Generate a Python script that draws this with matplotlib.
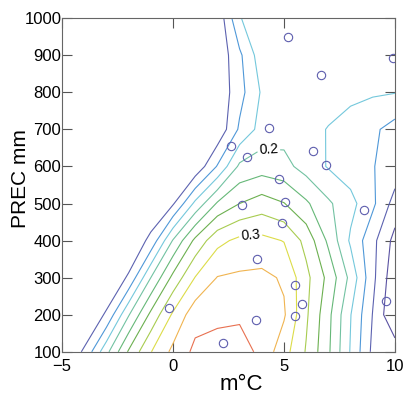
import matplotlib
matplotlib.use('Agg')
import matplotlib.pyplot as plt
import numpy as np

plt.rcParams['font.family'] = ['Liberation Sans', 'DejaVu Sans']

# grid axes of the response surface
temp = [-5, -4, -3, -2, -1, 0, 1, 2, 3, 4, 5, 6, 7, 8, 9, 10]
prec = [100, 200, 300, 400, 500, 600, 700, 800, 900, 1000]

# surface values, one row per precipitation level
z100 = [0.105, 0.128, 0.193, 0.253, 0.299, 0.331, 0.356, 0.362, 0.364, 0.342, 0.310, 0.273, 0.229, 0.173, 0.119, 0.115]
z200 = [0.105, 0.105, 0.128, 0.198, 0.256, 0.304, 0.340, 0.343, 0.345, 0.338, 0.328, 0.279, 0.232, 0.176, 0.124, 0.075]
z300 = [0.105, 0.105, 0.105, 0.128, 0.200, 0.257, 0.301, 0.326, 0.329, 0.331, 0.322, 0.282, 0.243, 0.193, 0.131, 0.082]
z400 = [0.105, 0.105, 0.105, 0.105, 0.131, 0.202, 0.256, 0.293, 0.306, 0.307, 0.299, 0.267, 0.220, 0.171, 0.132, 0.092]
z500 = [0.105, 0.105, 0.105, 0.105, 0.105, 0.122, 0.181, 0.228, 0.250, 0.262, 0.251, 0.229, 0.204, 0.183, 0.155, 0.115]
z600 = [0.105, 0.105, 0.105, 0.105, 0.105, 0.105, 0.105, 0.152, 0.205, 0.213, 0.208, 0.190, 0.173, 0.162, 0.151, 0.140]
z700 = [0.105, 0.105, 0.105, 0.105, 0.105, 0.105, 0.105, 0.105, 0.154, 0.185, 0.190, 0.182, 0.174, 0.165, 0.155, 0.140]
z800 = [0.105, 0.105, 0.105, 0.105, 0.105, 0.105, 0.105, 0.105, 0.141, 0.178, 0.185, 0.186, 0.184, 0.181, 0.178, 0.176]
z900 = [0.105, 0.105, 0.105, 0.105, 0.105, 0.105, 0.105, 0.105, 0.145, 0.190, 0.188, 0.188, 0.188, 0.187, 0.186, 0.186]
z1000 = [0.105, 0.105, 0.105, 0.105, 0.105, 0.105, 0.105, 0.105, 0.174, 0.186, 0.188, 0.188, 0.188, 0.188, 0.188, 0.188]

levels = [0.1, 0.125, 0.15, 0.175, 0.2, 0.225, 0.25, 0.275, 0.3, 0.325, 0.35]
line_colors = ['#5a52a2', '#5c62b0', '#4f98d8', '#74c8dc', '#72c2a2', '#66b878',
               '#6cb050', '#a8cc50', '#dcdc48', '#f0b450', '#e87050']

# sample sites
site_temp = [5.19, 9.9, 6.68, 4.31, 2.63, 3.32, 6.29, 6.89, 4.79, 5.05, 3.09,
             4.92, 8.59, 3.78, 5.51, 5.8, 5.51, 9.61, 3.73, -0.17, 2.25]
site_prec = [948, 892, 846, 704, 656, 625, 642, 605, 567, 503, 497,
             447, 482, 351, 281, 229, 197, 237, 185, 219, 125]

z = np.array([z100, z200, z300, z400, z500, z600, z700, z800, z900, z1000])

fig = plt.figure(figsize=(4.08, 3.94), dpi=100)
ax = fig.add_axes([0.152, 0.107, 0.816, 0.847])

cs = ax.contour(temp, prec, z, levels=levels, colors=line_colors, linewidths=0.8)
# only the 0.2 and 0.3 lines carry a label
label_fmt = {lv: ('%.1f' % lv if round(lv, 3) in (0.2, 0.3) else '') for lv in cs.levels}
ax.clabel(cs, manual=[(4.3, 642), (3.5, 412)], fmt=label_fmt,
          fontsize=10, colors='black', inline=True, inline_spacing=2)
ax.plot(site_temp, site_prec, 'o', mfc='none', mec='#5e5eae', ms=6, mew=0.8)

ax.set_xlim(-5, 10)
ax.set_ylim(100, 1000)
ax.set_xticks([-5, 0, 5, 10])
ax.set_yticks(list(range(100, 1001, 100)))
ax.tick_params(direction='in', top=True, right=True, length=7, width=0.8,
               color='#555555', labelsize=12)
ax.tick_params(axis='x', pad=5)
ax.tick_params(axis='y', pad=0.5)
for sp in ax.spines.values():
    sp.set_color('#666666')
    sp.set_linewidth(0.8)

ax.set_xlabel('m°C', fontsize=16)
ax.set_ylabel('PREC mm', fontsize=15)
ax.xaxis.set_label_coords(0.539, -0.066)
ax.yaxis.set_label_coords(-0.095, 0.52)

fig.savefig('out.png', dpi=100)
